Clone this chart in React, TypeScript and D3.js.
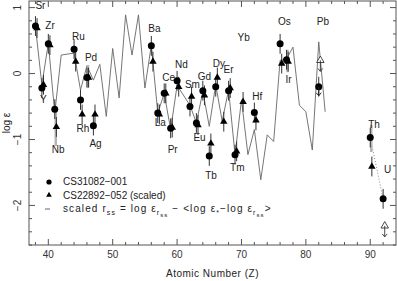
import React from 'react';
import * as d3 from 'd3';

// scaled solar r-process abundances (gray line)
const solarZ = [38, 39, 40, 41, 42, 44, 45, 46, 47, 48, 49, 50, 51, 52, 53, 54, 55, 56, 57, 58, 59, 60,
  62, 63, 64, 65, 66, 67, 68, 69, 70, 71, 72, 73, 74, 75, 76, 77, 78, 79, 80, 81, 82, 83];
const solarLogEps = [0.71, -0.17, 0.46, -0.6, 0.28, 0.31, -0.25, 0.12, -0.1, 0.14, -0.65, 0.38, -0.37, 0.89, 0.28, 0.89, -0.22, 0.43, -0.6, -0.3, -0.85, -0.18,
  -0.48, -0.75, -0.27, -0.8, -0.17, -0.72, -0.25, -1.23, -0.4, -1.23, -0.85, -1.61, -0.93, -1.03, 0.2, 0.22, 0.4, -0.48, -0.58, -1.16, 0.48, -0.58];

// CS31082-001 (circles)
const cs31082Z = [38, 39, 40, 41, 44, 45, 46, 47, 56, 57, 58, 59, 60, 62, 63, 64, 65, 66, 68, 69, 72, 76, 77, 82, 90, 92];
const cs31082LogEps = [0.72, -0.22, 0.45, -0.54, 0.37, -0.4, -0.06, -0.79, 0.42, -0.6, -0.3, -0.83, -0.11, -0.5, -0.75, -0.26, -1.25, -0.2, -0.26, -1.23, -0.59, 0.45, 0.21, -0.2, -0.97, -1.9];
const cs31082UpperLimitZ = [82];

// CS22892-052 scaled (triangles)
const cs22892Z = [38, 39, 40, 41, 44, 45, 46, 47, 56, 57, 58, 59, 60, 62, 63, 64, 65, 66, 67, 68, 69, 70, 72, 76, 77, 90];
const cs22892LogEps = [0.69, -0.17, 0.43, -0.81, 0.18, -0.62, -0.06, -0.62, 0.18, -0.62, -0.3, -0.82, -0.2, -0.35, -0.78, -0.33, -1.06, -0.06, -0.73, -0.22, -1.18, -0.43, -0.71, 0.15, 0.18, -1.41];
const cs22892LimitZ = [82, 92];
const cs22892LimitLogEps = [0.2, -2.31];

const errorSize = 0.15;

// light gray error bars
const grayBarZ = [39, 41, 46, 77, 90];
const grayBarLo = [-0.2, -1.1, -0.22, 0.02, -1.19];
const grayBarHi = [-0.07, -0.55, 0.13, 0.36, -0.78];

// element labels: name, Z, and pixel offset from the point
const labelNames = ['Sr', 'Y', 'Zr', 'Nb', 'Ru', 'Rh', 'Pd', 'Ag', 'Ba', 'La', 'Ce', 'Pr', 'Nd', 'Sm', 'Eu', 'Gd', 'Tb', 'Dy', 'Er', 'Tm', 'Yb', 'Hf', 'Os', 'Ir', 'Pb', 'Th', 'U'];
const labelZ = [38, 39, 40, 41, 44, 45, 46, 47, 56, 57, 58, 59, 60, 62, 63, 64, 65, 66, 68, 69, 70, 72, 76, 77, 82, 90, 92];
const labelOffset: Record<string, [number, number]> = {
  Sr: [0, -17], Y: [-2, 15], Zr: [-3, -15], Nb: [-3, 44], Ru: [-2, -9], Rh: [-4, 32], Pd: [-2, -16], Ag: [-4, 21],
  Ba: [-3, -14], La: [-3, 13], Ce: [-2, -12], Pr: [-3, 25], Nd: [-2, -13], Sm: [-5, -19], Eu: [-3, 18], Gd: [-5, -11],
  Tb: [-4, 23], Dy: [-3, -20], Er: [-5, -18], Tm: [-5, 16], Yb: [-4, -61], Hf: [-2, -12], Os: [-2, -19], Ir: [-1, 23],
  Pb: [-2, -62], Th: [-2, -10], U: [1, -26],
};

const xTicks = [40, 50, 60, 70, 80, 90];
const yTicks = [1, 0, -1, -2];

const W = 397;
const H = 281;
const FONT = '"Liberation Sans", Arial, sans-serif';

export default function App() {
  const x = d3.scaleLinear().domain([37, 94]).range([29, 396]);
  const y = d3.scaleLinear().domain([-2.6, 1.1]).range([245, 1]);
  const [x0, x1] = x.range();
  const [y0, y1] = y.range();

  const triOffset = 0.25;
  const line = d3.line<number>().x((_, i) => x(solarZ[i])).y(d => y(d));
  const tri = d3.symbol(d3.symbolTriangle, 24)()!;
  const triSmall = d3.symbol(d3.symbolTriangle, 14)()!;

  const xMinor = d3.range(38, 94, 2).filter(v => v % 10 !== 0);
  const yMinor = d3.range(-26, 11, 2).map(v => v / 10).filter(v => Math.abs(v - Math.round(v)) > 1e-6);

  const pointY = (z: number) => {
    const i = cs31082Z.indexOf(z);
    if (i >= 0) return y(cs31082LogEps[i]);
    return y(cs22892LogEps[cs22892Z.indexOf(z)]);
  };

  return (
    <svg width={W} height={H} style={{ position: 'absolute', left: 0, top: 0, background: '#fff' }} fontFamily={FONT}>
      {/* frame */}
      <rect x={x0} y={y1} width={x1 - x0} height={y0 - y1} fill="none" stroke="#555" strokeWidth={1} />

      {/* ticks */}
      {xTicks.map(t => (
        <g key={'xt' + t} stroke="#555">
          <line x1={x(t)} x2={x(t)} y1={y0} y2={y0 - 6} />
          <line x1={x(t)} x2={x(t)} y1={y1} y2={y1 + 6} />
        </g>
      ))}
      {xMinor.map(t => (
        <g key={'xm' + t} stroke="#555">
          <line x1={x(t)} x2={x(t)} y1={y0} y2={y0 - 3} />
          <line x1={x(t)} x2={x(t)} y1={y1} y2={y1 + 3} />
        </g>
      ))}
      {yTicks.map(t => (
        <g key={'yt' + t} stroke="#555">
          <line x1={x0} x2={x0 + 6} y1={y(t)} y2={y(t)} />
          <line x1={x1} x2={x1 - 6} y1={y(t)} y2={y(t)} />
        </g>
      ))}
      {yMinor.map(t => (
        <g key={'ym' + t} stroke="#555">
          <line x1={x0} x2={x0 + 3} y1={y(t)} y2={y(t)} />
          <line x1={x1} x2={x1 - 3} y1={y(t)} y2={y(t)} />
        </g>
      ))}

      {/* tick labels */}
      {xTicks.map(t => (
        <text key={'xl' + t} x={x(t)} y={y0 + 13} fontSize={10} textAnchor="middle" fill="#333">{t}</text>
      ))}
      {yTicks.map(t => (
        <text key={'yl' + t} x={21} y={y(t)} fontSize={10} textAnchor="middle" fill="#333"
          transform={`rotate(-90, 21, ${y(t)})`}>{t < 0 ? '\u2212' + Math.abs(t) : t}</text>
      ))}

      {/* axis titles */}
      <text x={(x0 + x1) / 2} y={277} fontSize={10} textAnchor="middle" fill="#222" letterSpacing={0.5}>Atomic Number (Z)</text>
      <text x={10} y={(y0 + y1) / 2} fontSize={10} textAnchor="middle" fill="#222"
        transform={`rotate(-90, 10, ${(y0 + y1) / 2})`}>log ε</text>

      {/* solar r-process line */}
      <path d={line(solarLogEps)!} fill="none" stroke="#666" strokeWidth={0.9} />

      {/* Th-U dotted */}
      <line x1={x(90)} y1={y(cs31082LogEps[cs31082Z.indexOf(90)])} x2={x(92)} y2={y(cs31082LogEps[cs31082Z.indexOf(92)])}
        stroke="#888" strokeWidth={1} strokeDasharray="1,2" />

      {/* gray error bars */}
      {grayBarZ.map((z, i) => (
        <line key={'gb' + z} x1={x(z) + 1} x2={x(z) + 1} y1={y(grayBarLo[i])} y2={y(grayBarHi[i])} stroke="#b5b5b5" strokeWidth={2.5} />
      ))}

      {/* error bars */}
      {cs31082Z.map((z, i) => (
        <line key={'ce' + z} x1={x(z)} x2={x(z)} y1={y(cs31082LogEps[i] - errorSize)} y2={y(cs31082LogEps[i] + errorSize)} stroke="#333" strokeWidth={1} />
      ))}
      {cs22892Z.map((z, i) => (
        <line key={'te' + z} x1={x(z + triOffset)} x2={x(z + triOffset)} y1={y(cs22892LogEps[i] - errorSize)} y2={y(cs22892LogEps[i] + errorSize)} stroke="#333" strokeWidth={1} />
      ))}

      {/* circles */}
      {cs31082Z.map((z, i) => (
        <circle key={'c' + z} cx={x(z)} cy={y(cs31082LogEps[i])} r={3.5} fill="#000" />
      ))}
      {cs31082UpperLimitZ.map(z => {
        const cx = x(z);
        const cy = y(cs31082LogEps[cs31082Z.indexOf(z)]);
        return (
          <g key={'cl' + z} stroke="#222" fill="none" strokeWidth={1}>
            <line x1={cx} x2={cx} y1={cy} y2={cy + 9} />
            <path d={`M${cx - 2.5},${cy + 6}L${cx},${cy + 9}L${cx + 2.5},${cy + 6}`} />
          </g>
        );
      })}

      {/* triangles */}
      {cs22892Z.map((z, i) => (
        <path key={'t' + z} d={tri} transform={`translate(${x(z + triOffset)},${y(cs22892LogEps[i])})`} fill="#000" />
      ))}
      {cs22892LimitZ.map((z, i) => {
        const cx = x(z + triOffset);
        const cy = y(cs22892LimitLogEps[i]);
        return (
          <g key={'tl' + z} stroke="#333" fill="none" strokeWidth={0.9}>
            <path d={tri} transform={`translate(${cx},${cy})`} fill="#fff" />
            <line x1={cx} x2={cx} y1={cy} y2={cy + 11} />
            <path d={`M${cx - 2.5},${cy + 8}L${cx},${cy + 11}L${cx + 2.5},${cy + 8}`} />
          </g>
        );
      })}

      {/* element labels */}
      {labelNames.map((n, i) => (
        <text key={'lb' + n} x={x(labelZ[i]) + labelOffset[n][0]} y={pointY(labelZ[i]) + labelOffset[n][1]}
          fontSize={10} fill="#222">{n}</text>
      ))}

      {/* legend */}
      <circle cx={49} cy={182} r={2.6} fill="#000" />
      <text x={63} y={185} fontSize={10} fill="#222">CS31082{'\u2212'}001</text>
      <path d={triSmall} transform="translate(49,195)" fill="#000" />
      <text x={63} y={198.5} fontSize={10} fill="#222">CS22892{'\u2212'}052 (scaled)</text>
      <line x1={45} x2={50} y1={209} y2={209} stroke="#666" strokeWidth={1} />
      <text x={63} y={212} fontSize={10} fill="#222" letterSpacing={1.1}>
        scaled r<tspan dy={3} fontSize={7}>ss</tspan>
        <tspan dy={-3}> = log ε</tspan><tspan dy={3} fontSize={7}>r</tspan><tspan dy={2} fontSize={6}>ss</tspan>
        <tspan dy={-5}> {'\u2212'} &lt;log ε</tspan><tspan dy={3} fontSize={7}>*</tspan>
        <tspan dy={-3}>{'\u2212'}log ε</tspan><tspan dy={3} fontSize={7}>r</tspan><tspan dy={2} fontSize={6}>ss</tspan>
        <tspan dy={-5}>&gt;</tspan>
      </text>
    </svg>
  );
}
